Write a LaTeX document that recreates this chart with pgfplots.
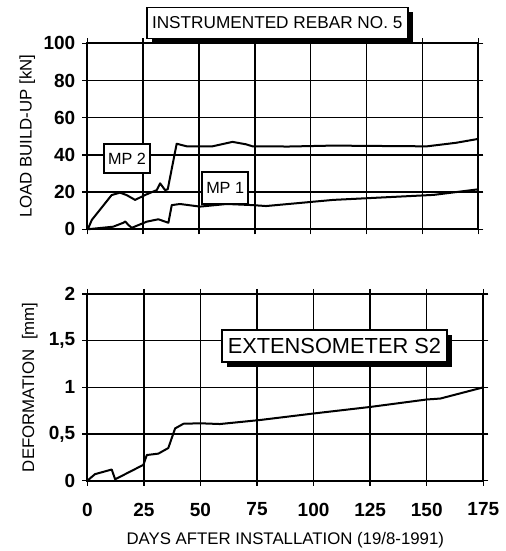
\documentclass[border=0pt]{standalone}
\usepackage{pgfplots}
\pgfplotsset{compat=1.18}
\usepackage{fontspec}
\setmainfont{Liberation Sans}
\usetikzlibrary{shadows}
\pgfplotsset{mystyle/.style={scale only axis, axis line style={line width=1pt}, grid=major,
  major grid style={black, line width=0.7pt}, tick align=outside, major tick length=2.5pt,
  tick style={black, line width=0.7pt}, /pgf/number format/assume math mode=true,
  tick label style={font=\fontsize{9.5}{11}\selectfont\bfseries},
  label style={font=\fontsize{8.4}{10}\selectfont}, clip=false}}
\tikzset{boxlbl/.style={draw=black, line width=0.8pt, fill=white, inner sep=0pt, anchor=center},
  shadowed/.style={general shadow={fill=black, shadow xshift=2.5pt, shadow yshift=-2.5pt}},
  dline/.style={black, line width=1pt, line join=round, mark=none}}
\begin{document}
\begin{tikzpicture}
\useasboundingbox (-43.65pt,-35.15pt) rectangle (209.35pt,240.35pt);
\begin{axis}[mystyle, at={(0pt,125.7pt)}, anchor=south west, width=195.5pt, height=93pt,
  xmin=0, xmax=175, ymin=0, ymax=100, xtick={0,25,...,175}, xticklabels={},
  ytick={0,20,...,100}, ylabel={LOAD BUILD-UP [kN]},
  ylabel style={at={(axis description cs:-0.1535,0.5)}, anchor=center}]
\addplot[dline] coordinates {(0,0) (0.4,0.5) (2,5) (10.9,18.4) (14.6,19.7) (17.6,18.4) (21.4,15.8) (25.8,18.4) (31.1,21.1) (32.6,24.7) (34.8,21.1) (36,21.5) (40,46) (44.5,44.6) (56,44.6) (65,47) (71,45.7) (74,44.6) (90,44.5) (110,45) (130,44.8) (152,44.6) (165,46.5) (175,48.6)};
\addplot[dline] coordinates {(0,0) (11.6,1.4) (16.1,3.5) (17,4.2) (18.4,2.3) (19.9,0.8) (26.6,4.1) (31.8,5.4) (36.3,3.5) (37.8,13) (41.5,13.6) (50.5,12.2) (62.4,13.6) (74,13) (80,12.5) (110,15.8) (140,17.6) (155,18.5) (175,21.5)};
\node[boxlbl, shadowed, minimum width=130.5pt, minimum height=15.5pt, font=\fontsize{8.6}{10}\selectfont] at (axis cs:85,111) {INSTRUMENTED REBAR NO. 5};
\node[boxlbl, minimum width=23pt, minimum height=14.5pt, font=\fontsize{8.1}{10}\selectfont] at (axis cs:17.8,38) {MP 2};
\node[boxlbl, minimum width=23pt, minimum height=16pt, font=\fontsize{8.1}{10}\selectfont] at (axis cs:61.7,22.2) {MP 1};
\end{axis}
\begin{axis}[mystyle, at={(0pt,0pt)}, anchor=south west, width=198pt, height=93.35pt,
  xmin=0, xmax=175, ymin=0, ymax=2, xtick={0,25,...,175},
  xticklabel style={yshift=-5pt},
  ytick={0,0.5,1,1.5,2}, yticklabels={0,{0,5},1,{1,5},2},
  ylabel={DEFORMATION\ \ [mm]}, xlabel={DAYS AFTER INSTALLATION (19/8-1991)},
  ylabel style={at={(axis description cs:-0.145,0.5)}, anchor=center},
  xlabel style={at={(axis description cs:0.5,-0.321)}, anchor=center}]
\addplot[dline] coordinates {(0,0) (3.4,0.07) (10.8,0.12) (12.3,0.015) (24.8,0.17) (26.3,0.275) (31.4,0.29) (35.8,0.35) (38.8,0.56) (42.5,0.61) (49.9,0.615) (58.6,0.607) (76.3,0.65) (100,0.72) (125,0.79) (150,0.87) (156,0.88) (175,1.0)};
\node[boxlbl, shadowed, minimum width=112.5pt, minimum height=16pt, font=\fontsize{10.9}{12}\selectfont] at (axis cs:109.2,1.446) {EXTENSOMETER S2};
\end{axis}
\end{tikzpicture}
\end{document}
